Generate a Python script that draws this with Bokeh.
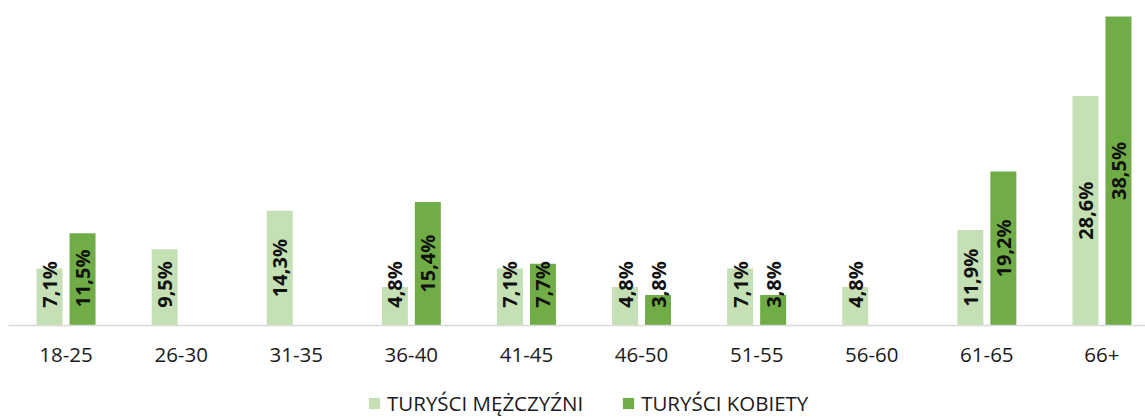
import numpy as np
from bokeh.plotting import figure
from bokeh.models import ColumnDataSource, Range1d, FixedTicker, Legend, LegendItem
from bokeh.core.properties import value
from bokeh.embed import file_html
from bokeh.resources import INLINE

# ---- data ----
categories = ["18-25", "26-30", "31-35", "36-40", "41-45", "46-50", "51-55", "56-60", "61-65", "66+"]
men = [7.1, 9.5, 14.3, 4.8, 7.1, 4.8, 7.1, 4.8, 11.9, 28.6]
women = [11.5, None, None, 15.4, 7.7, 3.8, 3.8, None, 19.2, 38.5]
series_names = ["TURYŚCI MĘŻCZYŹNI", "TURYŚCI KOBIETY"]
series_colors = ["#C5E0B4", "#70AD47"]

# ---- layout constants ----
W, H = 1145, 419
LEFT = 8
PX_PER_CAT = 115.1
BASE_Y = 325
PX_PER_UNIT = 8.026
Y_END = BASE_Y / PX_PER_UNIT
Y_START = -(H - BASE_Y) / PX_PER_UNIT
BAR_W = 26 / PX_PER_CAT
OFFSET = 16.5 / PX_PER_CAT
FONT = "Open Sans"

p = figure(width=W, height=H, x_range=Range1d(0, (W - LEFT) / PX_PER_CAT),
           y_range=Range1d(Y_START, Y_END),
           output_backend="svg", toolbar_location=None,
           min_border_left=LEFT, min_border_right=0, min_border_top=0, min_border_bottom=0)
p.outline_line_color = None
p.xgrid.visible = False
p.ygrid.visible = False
p.yaxis.visible = False
p.background_fill_color = "white"
p.border_fill_color = "white"

renderers = []
for k, (vals, color) in enumerate(zip([men, women], series_colors)):
    xs, ys, lbls, ly = [], [], [], []
    for i, v in enumerate(vals):
        if v is None:
            continue
        xs.append(i + 0.5 + (-OFFSET if k == 0 else OFFSET))
        ys.append(v)
        lbl = f"{v:.1f}".replace(".", ",") + "%"
        lbls.append(lbl)
        ly.append(max(v / 2, (17 + 6 * len(lbl)) / PX_PER_UNIT))
    src = ColumnDataSource(dict(x=xs, top=ys, label=lbls, ly=ly))
    r = p.vbar(x="x", top="top", width=BAR_W, bottom=0, source=src,
               fill_color=color, line_color=None)
    renderers.append(r)
    p.text(x="x", y="ly", text="label", source=src, angle=np.pi / 2,
           text_align="center", text_baseline="middle",
           text_font=value(FONT), text_font_style="bold", text_font_size="20px",
           text_color="#111111")

ax = p.xaxis[0]
ax.fixed_location = 0
ax.ticker = FixedTicker(ticks=[i + 0.5 for i in range(len(categories))])
ax.major_label_overrides = {i + 0.5: c for i, c in enumerate(categories)}
ax.major_tick_line_color = None
ax.minor_tick_line_color = None
ax.axis_line_color = "#D9D9D9"
ax.axis_line_width = 1.5
ax.major_label_text_font = FONT
ax.major_label_text_font_size = "20.5px"
ax.major_label_text_color = "#1a1a1a"
ax.major_label_standoff = 16

legend = Legend(items=[LegendItem(label=n, renderers=[r]) for n, r in zip(series_names, renderers)],
                orientation="horizontal", location=(359, 2),
                glyph_width=14, glyph_height=14, label_standoff=6, spacing=38,
                padding=0, margin=0, border_line_color=None, background_fill_alpha=0,
                label_text_font=FONT, label_text_font_size="20.5px", label_text_color="#1a1a1a",
                label_height=14)
p.add_layout(legend)

open("out.html", "w").write(file_html(p, INLINE))
